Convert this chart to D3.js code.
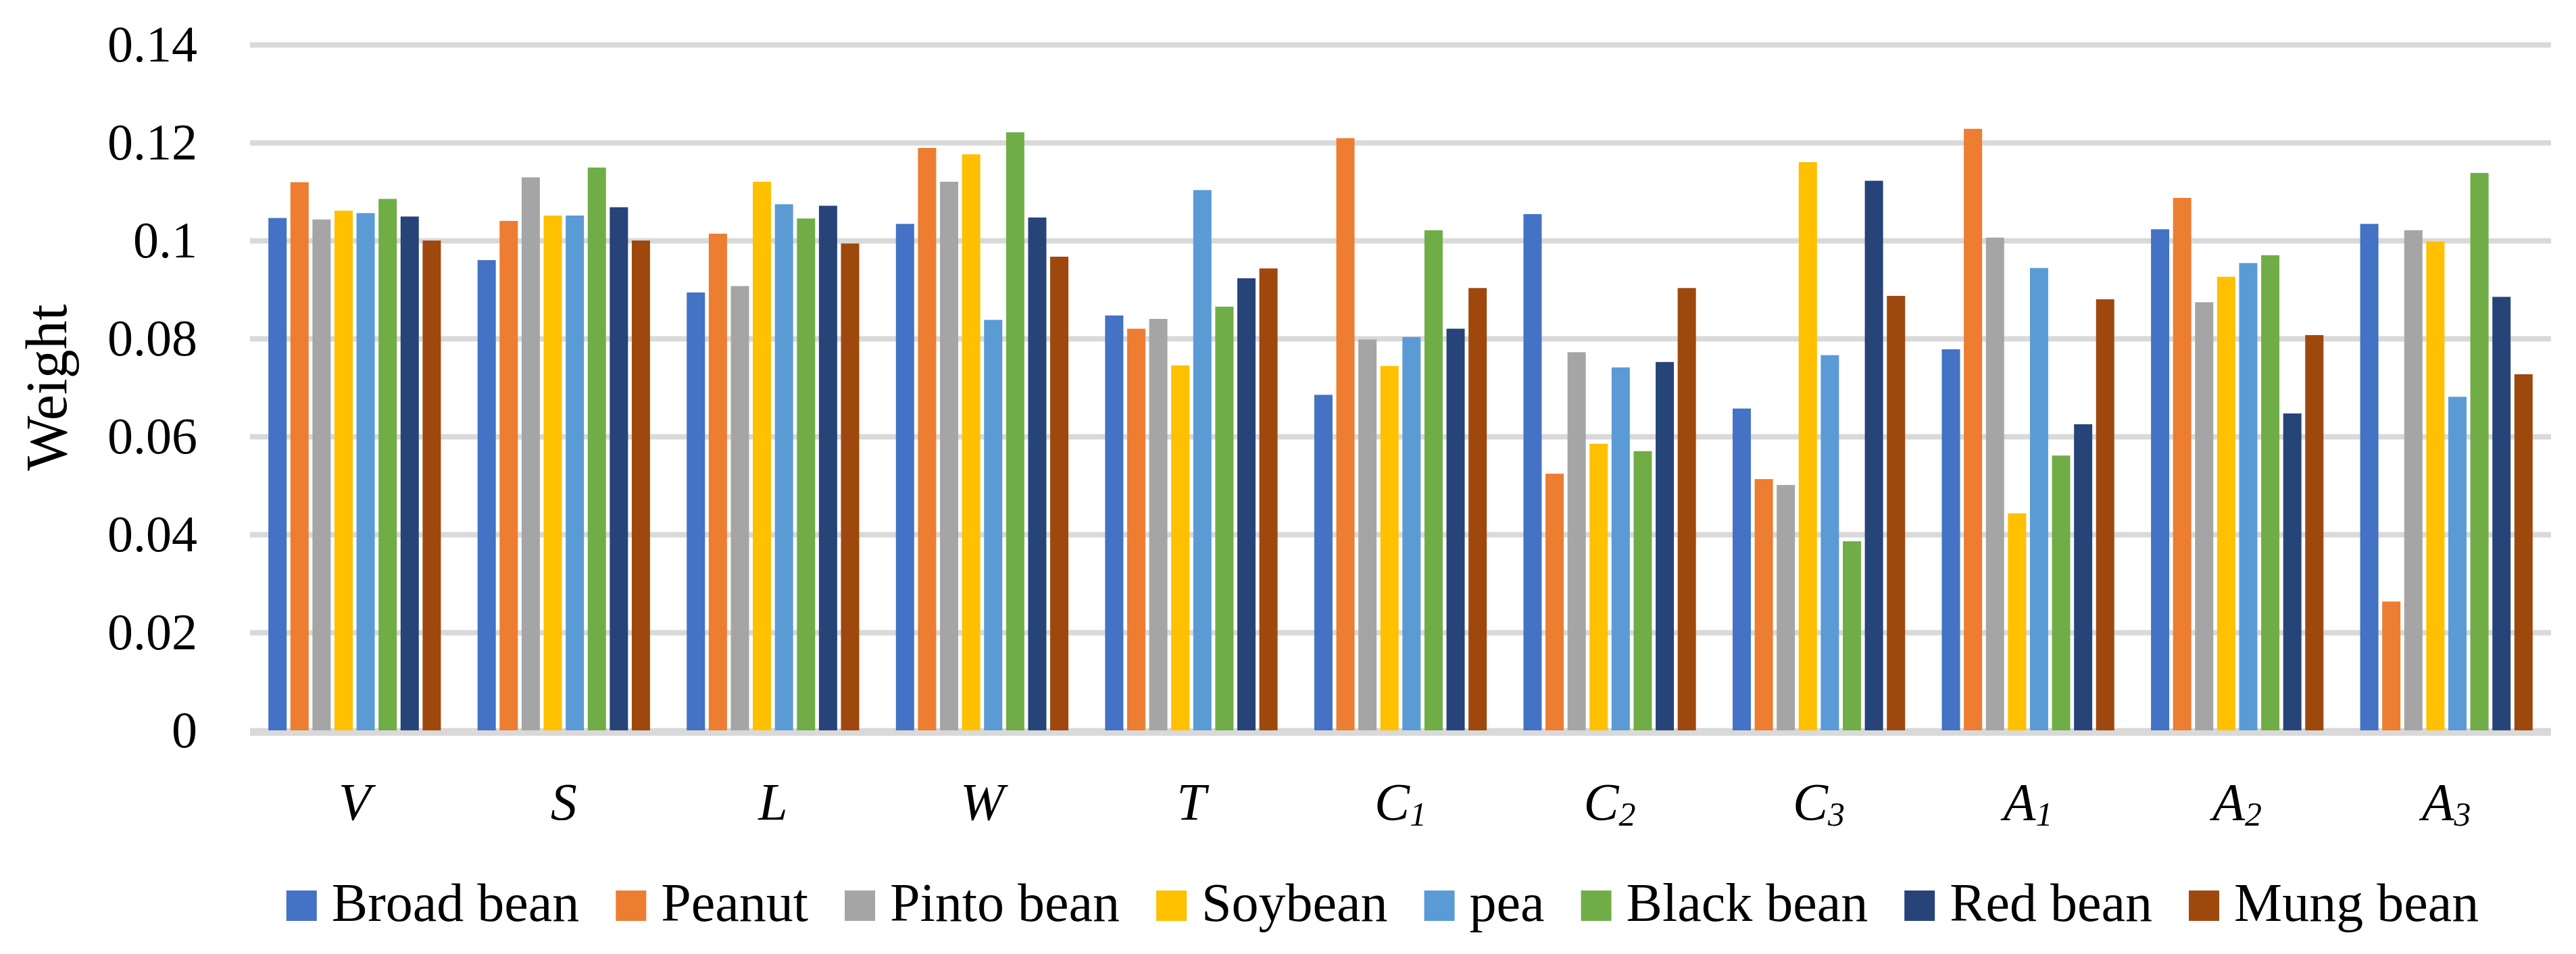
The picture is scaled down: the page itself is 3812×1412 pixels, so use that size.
<!DOCTYPE html>
<html lang="en">
<head>
  <meta charset="UTF-8">
  <title>Weight by bean type</title>
  <script src="https://d3js.org/d3.v7.min.js"></script>
  <style>
    body {
      margin: 0;
      background-color: white;
    }
  </style>
</head>
<body>
  <div id="chart"></div>

  <script>
    // categories on the x axis (letter + optional subscript)
    const categories = ["V", "S", "L", "W", "T", "C1", "C2", "C3", "A1", "A2", "A3"];
    const seriesNames = ["Broad bean", "Peanut", "Pinto bean", "Soybean", "pea", "Black bean", "Red bean", "Mung bean"];
    const seriesColors = ["#4472C4", "#ED7D31", "#A5A5A5", "#FFC000", "#5B9BD5", "#70AD47", "#264478", "#9E480E"];

    // values, one array per bean
    const broadBean = [0.1046, 0.0960, 0.0894, 0.1034, 0.0847, 0.0685, 0.1054, 0.0657, 0.0778, 0.1023, 0.1034];
    const peanut    = [0.1119, 0.1040, 0.1014, 0.1189, 0.0820, 0.1209, 0.0524, 0.0513, 0.1228, 0.1087, 0.0263];
    const pintoBean = [0.1043, 0.1129, 0.0907, 0.1120, 0.0840, 0.0798, 0.0772, 0.0501, 0.1006, 0.0874, 0.1021];
    const soybean   = [0.1061, 0.1051, 0.1120, 0.1176, 0.0745, 0.0744, 0.0585, 0.1160, 0.0443, 0.0926, 0.0998];
    const pea       = [0.1056, 0.1051, 0.1074, 0.0838, 0.1103, 0.0803, 0.0741, 0.0766, 0.0944, 0.0954, 0.0681];
    const blackBean = [0.1085, 0.1149, 0.1045, 0.1221, 0.0865, 0.1021, 0.0570, 0.0386, 0.0561, 0.0970, 0.1138];
    const redBean   = [0.1049, 0.1068, 0.1071, 0.1047, 0.0923, 0.0820, 0.0752, 0.1122, 0.0625, 0.0647, 0.0885];
    const mungBean  = [0.1000, 0.1000, 0.0994, 0.0967, 0.0943, 0.0903, 0.0903, 0.0887, 0.0880, 0.0807, 0.0727];

    const yTicks = [0, 0.02, 0.04, 0.06, 0.08, 0.1, 0.12, 0.14];
    const yTickLabels = ["0", "0.02", "0.04", "0.06", "0.08", "0.1", "0.12", "0.14"];

    const seriesValues = [broadBean, peanut, pintoBean, soybean, pea, blackBean, redBean, mungBean];

    const serif = "'Liberation Serif', 'Times New Roman', Times, serif";

    let width = 3812;
    let height = 1412;
    let margin = { top: 66, right: 37, bottom: 331, left: 370 };
    let plotW = width - margin.left - margin.right;
    let plotH = height - margin.top - margin.bottom;

    let svg = d3.select("#chart")
      .append("svg")
      .attr("width", width)
      .attr("height", height)
      .attr("font-family", serif)
      .style("background-color", "white");

    const x0 = d3.scaleBand()
      .domain(categories)
      .range([0, plotW])
      .padding(0);

    const x1 = d3.scaleBand()
      .domain(seriesNames)
      .range([0, x0.bandwidth()])
      .paddingInner(0.172)
      .paddingOuter(0.833);

    const y = d3.scaleLinear()
      .domain([0, 0.14])
      .range([plotH, 0]);

    let plot = svg.append("g")
      .attr("transform", "translate(" + margin.left + "," + margin.top + ")");

    // gridlines + tick labels
    let yAxis = d3.axisLeft(y)
      .tickValues(yTicks)
      .tickSize(-plotW)
      .tickPadding(78)
      .tickFormat((d, i) => yTickLabels[i]);

    let yg = plot.append("g").call(yAxis)
      .attr("font-family", serif)
      .attr("font-size", 76);
    yg.select(".domain").remove();
    yg.selectAll("line")
      .attr("stroke", "#D9D9D9")
      .attr("stroke-width", 8);
    yg.selectAll("text")
      .attr("font-family", serif)
      .attr("fill", "black");

    // bars
    categories.forEach((cat, ci) => {
      let g = plot.append("g")
        .attr("transform", "translate(" + x0(cat) + ",0)");
      seriesNames.forEach((s, si) => {
        let v = seriesValues[si][ci];
        g.append("rect")
          .attr("x", x1(s))
          .attr("y", y(v))
          .attr("width", x1.bandwidth())
          .attr("height", y(0) - y(v))
          .attr("fill", seriesColors[si]);
      });
    });

    // baseline on top of the bars
    plot.append("line")
      .attr("x1", 0)
      .attr("x2", plotW)
      .attr("y1", y(0) + 4)
      .attr("y2", y(0) + 4)
      .attr("stroke", "#D9D9D9")
      .attr("stroke-width", 8);

    // category labels with subscripts
    categories.forEach(cat => {
      let t = plot.append("text")
        .attr("x", x0(cat) + x0.bandwidth() / 2)
        .attr("y", plotH + 132)
        .attr("text-anchor", "middle")
        .attr("font-family", serif)
        .attr("font-style", "italic")
        .attr("font-size", 78);
      t.append("tspan").text(cat[0]);
      if (cat.length > 1) {
        t.append("tspan")
          .attr("dy", 9)
          .attr("font-size", 50)
          .text(cat.slice(1));
      }
    });

    // y axis title
    svg.append("text")
      .attr("transform", "rotate(-90)")
      .attr("x", -(margin.top + plotH / 2))
      .attr("y", 98)
      .attr("text-anchor", "middle")
      .attr("font-family", serif)
      .attr("font-size", 86)
      .text("Weight");

    // legend, centred under the plot
    let legend = svg.append("g");
    let box = 45, textGap = 22, itemGap = 54;
    let items = seriesNames.map((name, i) => {
      let item = legend.append("g");
      item.append("rect")
        .attr("width", box)
        .attr("height", box)
        .attr("y", -box)
        .attr("fill", seriesColors[i]);
      let t = item.append("text")
        .attr("x", box + textGap)
        .attr("y", 0)
        .attr("font-family", serif)
        .attr("font-size", 80)
        .text(name);
      return { g: item, w: box + textGap + t.node().getComputedTextLength() };
    });
    let total = d3.sum(items, d => d.w) + itemGap * (items.length - 1);
    let lx = 2046 - total / 2;
    items.forEach(it => {
      it.g.attr("transform", "translate(" + lx + ",1363)");
      lx += it.w + itemGap;
    });
  </script>
</body>
</html>
